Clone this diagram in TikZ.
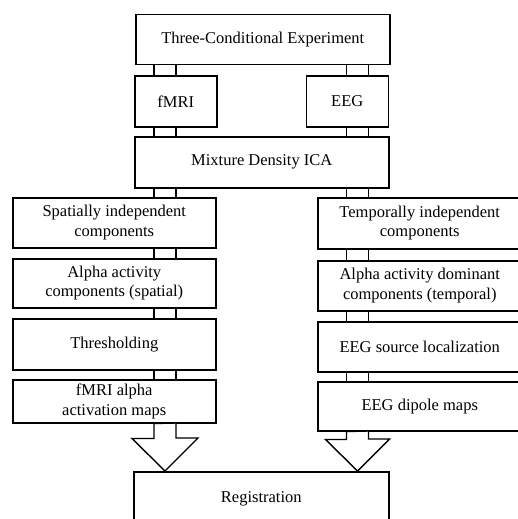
\documentclass[tikz,border=0pt]{standalone}
\usepackage{fontspec}
\setmainfont{Liberation Serif}
\usetikzlibrary{positioning}
\newcommand{\boxfont}{\fontsize{16.5pt}{19.5pt}\selectfont}
\tikzset{
  % Flow box
  block/.style={
    rectangle, draw=black, line width=1.5pt, fill=white,
    align=center, inner sep=2pt, font=\boxfont, text=black
  },
  % Double-line link between boxes
  pipe/.style={draw=black, line width=1.4pt, double=white, double distance=20.3pt},
  % Hollow block arrow
  bigarrow/.style={draw=black, line width=1.4pt, fill=white, line join=miter},
}

\begin{document}
\begin{tikzpicture}[x=1pt, y=-1pt]
  \clip (0,0) rectangle (518,519);
  \coordinate (L) at (165,0);
  \coordinate (R) at (357.5,0);

  % top part
  \node[block, anchor=north west, minimum width=254pt, minimum height=50pt] (exp) at (135,14) {Three-Conditional Experiment};
  \node[block, anchor=north west, minimum width=82pt, minimum height=51pt] (fmri) at (134,75) {fMRI};
  \node[block, anchor=north east, minimum width=82pt, minimum height=51pt] (eeg) at (389,75) {EEG};
  \node[block, anchor=north west, minimum width=254pt, minimum height=51pt] (ica) at (134,136) {Mixture Density ICA};

  % fMRI branch
  \node[block, anchor=north west, minimum width=203pt, minimum height=50pt] (spat) at (12,197) {Spatially independent\\components};
  \node[block, below=9.5pt of spat, minimum width=203pt, minimum height=49pt] (alphaL) {Alpha activity\\components (spatial)};
  \node[block, below=9.5pt of alphaL, minimum width=203pt, minimum height=51pt] (thresh) {Thresholding};
  \node[block, below=8.5pt of thresh, minimum width=203pt, minimum height=43pt] (fmrimap) {fMRI alpha\\activation maps};

  % EEG branch
  \node[block, anchor=north west, minimum width=204pt, minimum height=51pt] (temp) at (317,197) {Temporally independent\\components};
  \node[block, below=10.5pt of temp, minimum width=204pt, minimum height=50pt] (alphaR) {Alpha activity dominant\\components (temporal)};
  \node[block, below=9.5pt of alphaR, minimum width=204pt, minimum height=50pt] (srcloc) {EEG source localization};
  \node[block, below=8.5pt of srcloc, minimum width=204pt, minimum height=49pt] (dipole) {EEG dipole maps};

  \node[block, anchor=north west, minimum width=255pt, minimum height=54pt] (reg) at (133,471) {Registration};

  % links
  \foreach \a/\b/\c in {exp/fmri/L, exp/eeg/R, fmri/ica/L, eeg/ica/R,
                        ica/spat/L, spat/alphaL/L, alphaL/thresh/L, thresh/fmrimap/L,
                        ica/temp/R, temp/alphaR/R, alphaR/srcloc/R, srcloc/dipole/R}
    \draw[pipe] (\a.south -| \c) -- (\b.north -| \c);

  % block arrows into registration
  \draw[bigarrow] (fmrimap.south -| L) ++(-11,0) -- ++(0,15) -- ++(-22,0)
    -- (reg.north -| L) -- ++(33,-33) -- ++(-22,0) -- ++(0,-15) -- cycle;
  \draw[bigarrow] (dipole.south -| R) ++(-11,0) -- ++(0,8) -- ++(-21,0)
    -- (reg.north -| R) -- ++(32,-32) -- ++(-21,0) -- ++(0,-8) -- cycle;
\end{tikzpicture}
\end{document}
